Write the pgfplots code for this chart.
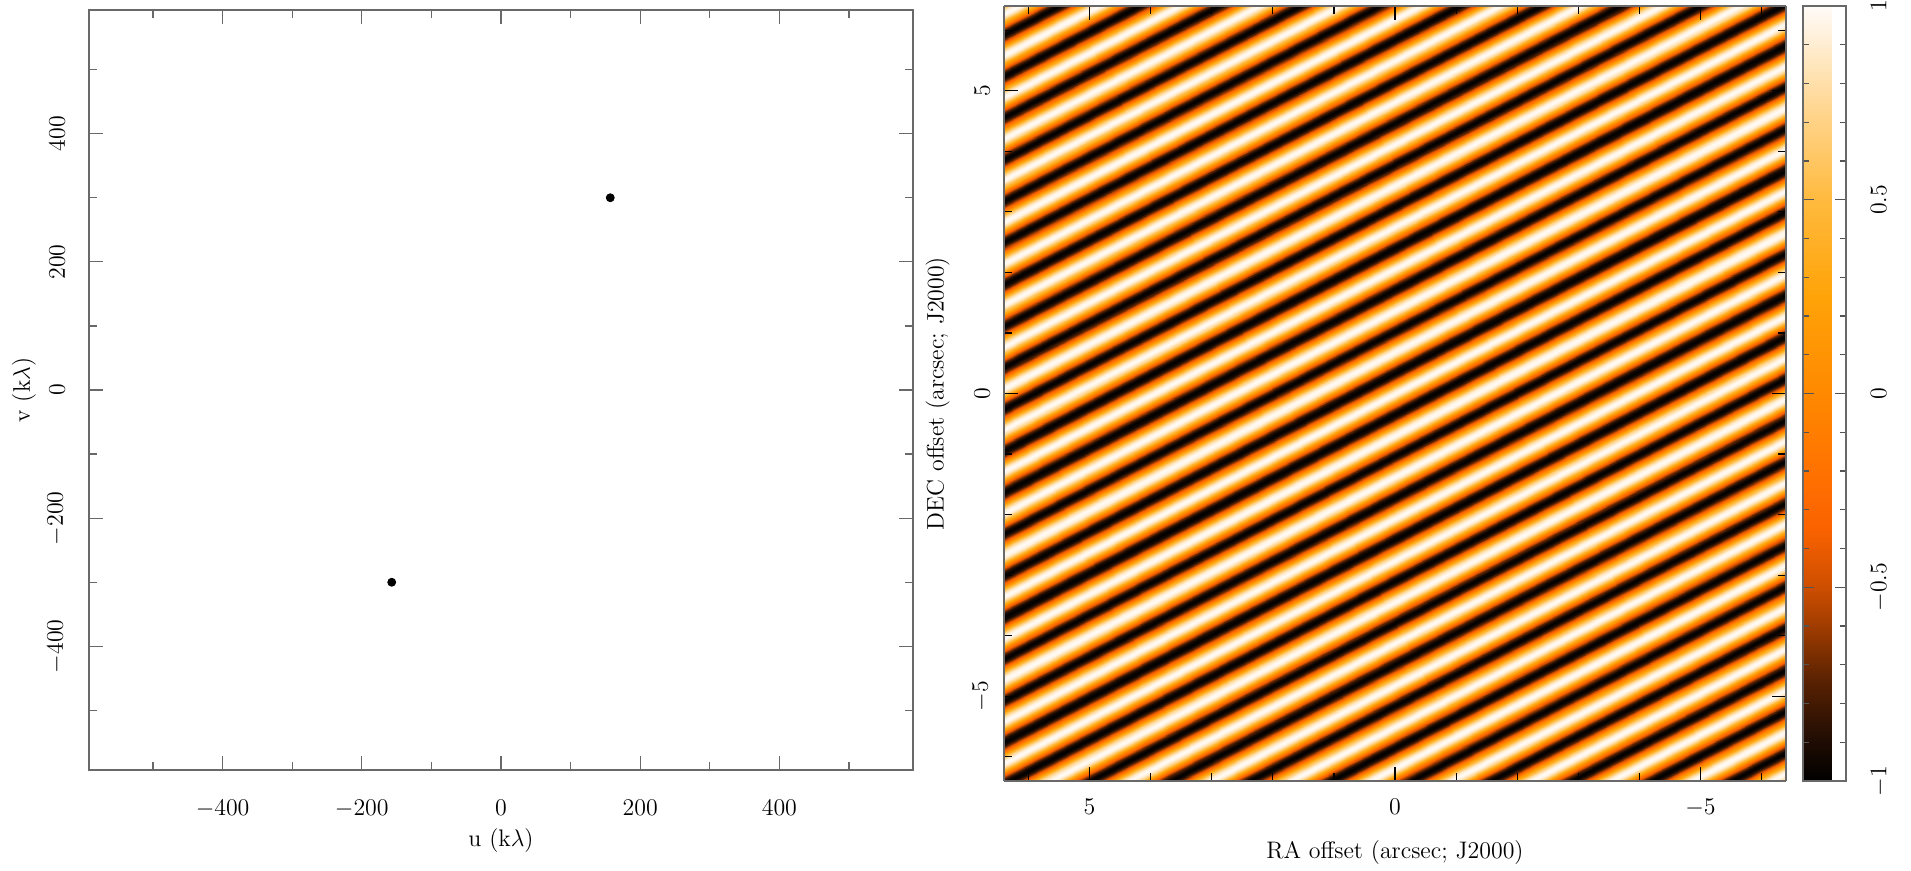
\documentclass[border=0pt]{standalone}
\usepackage{pgfplots}
\pgfplotsset{compat=1.18}
\usepackage{pgfplotstable}

% one fringe period: phase (cycles), position along the fringe (arcsec), value
\pgfplotstableread{
p t c
0 -9 1
0 9 1
0.0625 -9 0.92388
0.0625 9 0.92388
0.125 -9 0.70711
0.125 9 0.70711
0.1875 -9 0.38268
0.1875 9 0.38268
0.25 -9 0
0.25 9 0
0.3125 -9 -0.38268
0.3125 9 -0.38268
0.375 -9 -0.70711
0.375 9 -0.70711
0.4375 -9 -0.92388
0.4375 9 -0.92388
0.5 -9 -1
0.5 9 -1
0.5625 -9 -0.92388
0.5625 9 -0.92388
0.625 -9 -0.70711
0.625 9 -0.70711
0.6875 -9 -0.38268
0.6875 9 -0.38268
0.75 -9 0
0.75 9 0
0.8125 -9 0.38268
0.8125 9 0.38268
0.875 -9 0.70711
0.875 9 0.70711
0.9375 -9 0.92388
0.9375 9 0.92388
1 -9 1
1 9 1
}\fringe

\definecolor{framegray}{RGB}{105,105,105}

\pgfplotsset{
  colormap={fringemap}{
    rgb255(0cm)=(0,0,0)
    rgb255(1cm)=(30,12,3)
    rgb255(2.5cm)=(85,32,2)
    rgb255(4cm)=(160,60,0)
    rgb255(5cm)=(205,78,0)
    rgb255(6.5cm)=(250,98,0)
    rgb255(8cm)=(255,114,0)
    rgb255(10cm)=(255,137,0)
    rgb255(12.5cm)=(255,163,8)
    rgb255(15cm)=(255,186,62)
    rgb255(17.5cm)=(255,216,150)
    rgb255(20cm)=(255,251,248)
  }
}

\begin{document}
\begin{tikzpicture}[font=\fontsize{12}{14.4}\selectfont]
\useasboundingbox (0,0) rectangle (955.5bp,435.5bp);

% ---------------- uv coverage ----------------
\begin{axis}[
  at={(44.5bp,50.5bp)}, anchor=south west,
  width=412bp, height=380bp, scale only axis,
  xmin=-592, xmax=592, ymin=-593, ymax=593,
  xtick={-400,-200,0,200,400},
  ytick={-400,-200,0,200,400},
  minor xtick={-500,-300,-100,100,300,500},
  minor ytick={-500,-300,-100,100,300,500},
  tick align=inside, xtick pos=both, ytick pos=both,
  major tick length=7bp, minor tick length=4bp,
  axis line style={framegray, line width=0.6pt},
  every tick/.style={framegray, line width=0.6pt},
  xticklabel style={yshift=-11.5bp},
  yticklabel style={xshift=-8.5bp, rotate=90, anchor=south},
  xlabel={u (k$\lambda$)}, ylabel={v (k$\lambda$)},
  xlabel style={at={(axis description cs:0.5,-0.0934)}, anchor=center},
  ylabel style={at={(axis description cs:-0.0789,0.5)}, anchor=center},
]
\addplot[only marks, mark=*, mark size=2bp, black] coordinates {(157,300) (-157,-300)};
\end{axis}

% ---------------- fringe image (x axis = -RA offset, labelled as RA) ----------------
\begin{axis}[
  name=img,
  at={(502bp,45bp)}, anchor=south west,
  width=391bp, height=387.5bp, scale only axis,
  view={0}{90},
  xmin=-6.4, xmax=6.4, ymin=-6.4, ymax=6.4, zmin=-1, zmax=1,
  xtick={-5,0,5}, xticklabels={5,0,$-5$},
  ytick={-5,0,5},
  minor xtick={-6,-4,-3,-2,-1,1,2,3,4,6},
  minor ytick={-6,-4,-3,-2,-1,1,2,3,4,6},
  tick align=inside, xtick pos=both, ytick pos=both,
  major tick length=7bp, minor tick length=4bp,
  axis line style={framegray, line width=0.6pt},
  every tick/.style={black, line width=0.6pt},
  axis on top,
  colormap name=fringemap,
  point meta min=-1, point meta max=1,
  xticklabel style={yshift=-5.5bp},
  yticklabel style={xshift=-3.5bp, rotate=90, anchor=south},
  xlabel={RA offset (arcsec; J2000)}, ylabel={DEC offset (arcsec; J2000)},
  xlabel style={at={(axis description cs:0.5,-0.0929)}, anchor=center},
  ylabel style={at={(axis description cs:-0.0847,0.5)}, anchor=center},
  colorbar,
  colorbar style={
    at={([xshift=13bp]parent axis.north east)}, anchor=north west,
    width=21.5bp, height=387.5bp, scale only axis,
    ymin=-1, ymax=1,
    ytick={-1,-0.5,0,0.5,1},
    minor ytick={-0.9,-0.8,-0.7,-0.6,-0.4,-0.3,-0.2,-0.1,0.1,0.2,0.3,0.4,0.6,0.7,0.8,0.9},
    ytick pos=both, yticklabel pos=right,
    tick align=inside,
    major tick length=5.5bp, minor tick length=3bp,
    axis line style={framegray, line width=0.6pt},
    every tick/.style={framegray!80!black, line width=0.6pt},
    yticklabel style={xshift=9bp, rotate=90, anchor=north},
  },
]
\pgfplotsinvokeforeach{-15,...,14}{
  \addplot3[surf, shader=interp, mesh/rows=17, mesh/cols=2, point meta=\thisrow{c}]
    table[x expr={-((\thisrow{p}+#1)*0.28246-0.88600*\thisrow{t})},
          y expr={(\thisrow{p}+#1)*0.53973+0.46367*\thisrow{t}},
          z expr=0] {\fringe};
}
\end{axis}
\end{tikzpicture}
\end{document}
